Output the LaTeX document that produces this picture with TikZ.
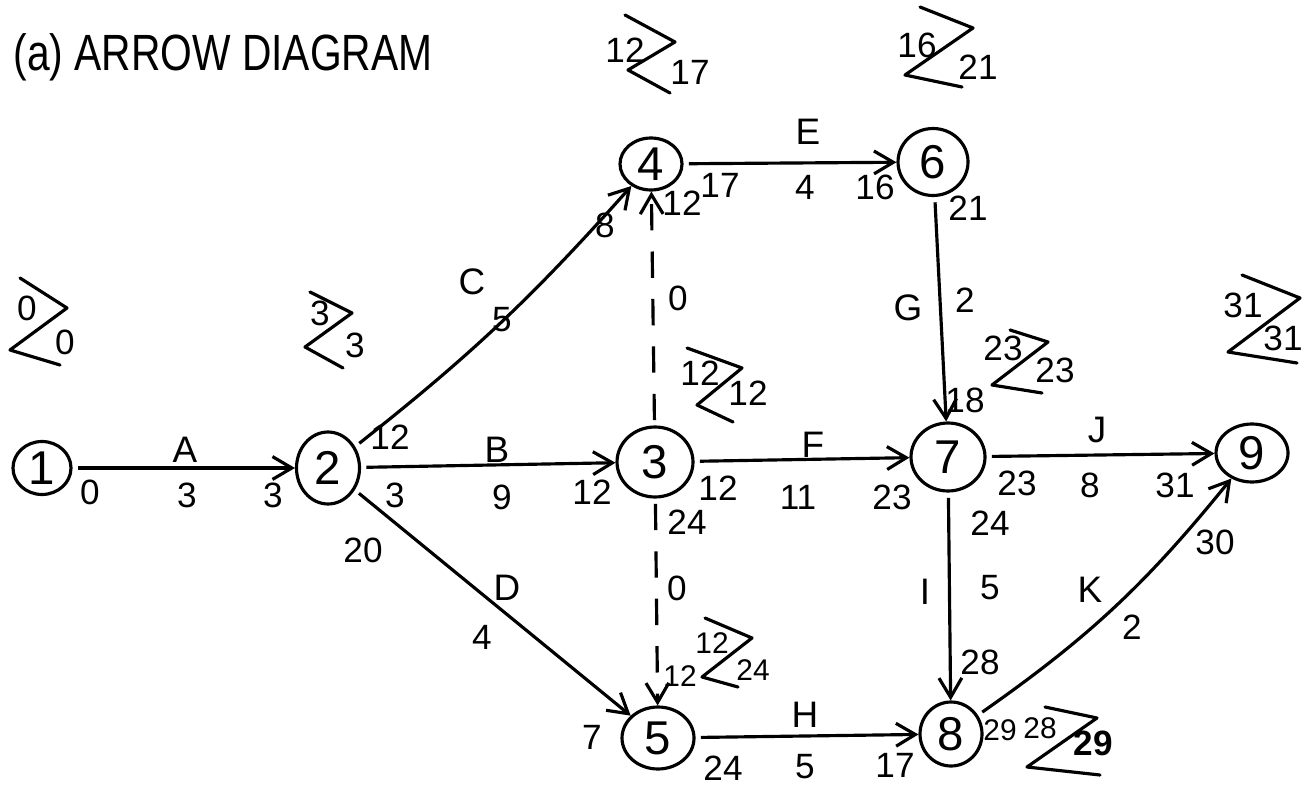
\documentclass[tikz,border=0pt]{standalone}
\usepackage{fontspec}
\setmainfont{Liberation Sans}
\usepackage{tikz}
\usetikzlibrary{arrows.meta,shapes.geometric}

\begin{document}
\begin{tikzpicture}[x=0.02cm,y=-0.02cm,
  evt/.style={ellipse, draw, line width=1.8pt, inner sep=0pt, font=\fontsize{27}{29}\selectfont},
  act/.style={line width=1.8pt, shorten <=3pt, -{Straight Barb[length=11pt,width=13pt,line width=1.8pt]}},
  dum/.style={act, dash pattern=on 15pt off 12pt},
  lbl/.style={inner sep=0pt, font=\fontsize{21}{23}\selectfont},
  num/.style={inner sep=0pt, font=\fontsize{20}{22}\selectfont},
  sml/.style={inner sep=0pt, font=\fontsize{17}{19}\selectfont},
  zig/.style={line width=1.8pt, line join=round, line cap=round}]
\useasboundingbox (0,0) rectangle (1314,790);

\node[inner sep=0pt, font=\fontsize{29}{31}\selectfont] (title) at (223,57) {\scalebox{0.8}[1]{(a) ARROW DIAGRAM}};

\node[evt, minimum width=1.16cm, minimum height=1.06cm] (n1) at (42,468) {1};
\node[evt, minimum width=1.26cm, minimum height=1.44cm] (n2) at (328,468) {2};
\node[evt, minimum width=1.52cm, minimum height=1.40cm] (n3) at (655,462) {3};
\node[evt, minimum width=1.24cm, minimum height=1.04cm] (n4) at (651,164) {4};
\node[evt, minimum width=1.44cm, minimum height=1.24cm] (n5) at (658,738) {5};
\node[evt, minimum width=1.40cm, minimum height=1.34cm] (n6) at (933,162) {6};
\node[evt, minimum width=1.48cm, minimum height=1.36cm] (n7) at (948,457) {7};
\node[evt, minimum width=1.24cm, minimum height=1.28cm] (n8) at (951,734) {8};
\node[evt, minimum width=1.44cm, minimum height=1.16cm] (n9) at (1252,453) {9};

\draw[act] (n1) -- (n2);
\draw[act] (n2) -- (n3);
\draw[act] (n2) to[bend right=5] (n4);
\draw[act] (n2) -- (n5);
\draw[act] (n4) -- (n6);
\draw[act] (n3) -- (n7);
\draw[act] (n6) -- (n7);
\draw[act] (n5) -- (n8);
\draw[act] (n7) -- (n8);
\draw[act] (n7) -- (n9);
\draw[act] (n8) to[bend right=8] (n9);
\draw[dum] (n3) -- (n4);
\draw[dum] (n3) -- (n5);

\node[lbl] (lA) at (185,450) {A};
\node[num] (dA) at (187,495) {3};
\node[num] (sA) at (90,492) {0};
\node[num] (fA) at (273,495) {3};
\node[lbl] (lB) at (497,450) {B};
\node[num] (dB) at (502,497) {9};
\node[num] (sB) at (395,495) {3};
\node[num] (fB) at (592,492) {12};
\node[num] (sC) at (390,437) {12};
\node[lbl] (lC) at (472,282) {C};
\node[num] (dC) at (502,320) {5};
\node[num] (fC) at (605,225) {8};
\node[num] (sD) at (363,550) {20};
\node[lbl] (lD) at (507,588) {D};
\node[num] (dD) at (482,637) {4};
\node[num] (fD) at (592,737) {7};
\node[lbl] (lE) at (808,132) {E};
\node[num] (dE) at (805,187) {4};
\node[num] (sE) at (720,185) {17};
\node[num] (fE) at (875,187) {16};
\node[num] (fU) at (682,203) {12};
\node[num] (dU) at (678,298) {0};
\node[num] (sW) at (687,522) {24};
\node[num] (dW) at (677,588) {0};
\node[sml] (fW) at (680,676) {12};
\node[lbl] (lF) at (813,445) {F};
\node[num] (dF) at (798,497) {11};
\node[num] (sF) at (718,488) {12};
\node[num] (fF) at (892,497) {23};
\node[lbl] (lG) at (908,308) {G};
\node[num] (dG) at (965,300) {2};
\node[num] (sG) at (968,208) {21};
\node[num] (fG) at (965,400) {18};
\node[lbl] (lJ) at (1097,430) {J};
\node[num] (dJ) at (1090,485) {8};
\node[num] (sJ) at (1017,483) {23};
\node[num] (fJ) at (1175,485) {31};
\node[lbl] (lI) at (925,592) {I};
\node[num] (dI) at (990,588) {5};
\node[num] (sI) at (990,523) {24};
\node[num] (fI) at (980,662) {28};
\node[lbl] (lH) at (805,715) {H};
\node[num] (dH) at (805,767) {5};
\node[num] (sH) at (723,768) {24};
\node[num] (fH) at (895,765) {17};
\node[lbl] (lK) at (1090,590) {K};
\node[num] (dK) at (1132,627) {2};
\node[num] (fK) at (1215,542) {30};
\node[sml] (sK) at (1000,730) {29};

\draw[zig] (20,278) -- (67,308) -- (10,350) -- (60,365);
\node[num] (e1t) at (27,308) {0};
\node[num] (e1b) at (65,342) {0};
\draw[zig] (310,292) -- (352,313) -- (305,347) -- (343,368);
\node[num] (e2t) at (320,313) {3};
\node[num] (e2b) at (355,345) {3};
\draw[zig] (687,348) -- (742,368) -- (697,405) -- (733,422);
\node[num] (e3t) at (700,373) {12};
\node[num] (e3b) at (748,393) {12};
\draw[zig] (625,15) -- (675,42) -- (628,70) -- (670,93);
\node[num] (e4t) at (625,50) {12};
\node[num] (e4b) at (690,72) {17};
\draw[zig] (705,618) -- (752,638) -- (702,677) -- (738,687);
\node[sml] (e5t) at (712,643) {12};
\node[sml] (e5b) at (753,670) {24};
\draw[zig] (920,7) -- (973,28) -- (905,75) -- (962,87);
\node[num] (e6t) at (917,45) {16};
\node[num] (e6b) at (978,67) {21};
\draw[zig] (1010,330) -- (1048,342) -- (992,385) -- (1042,393);
\node[num] (e7t) at (1003,348) {23};
\node[num] (e7b) at (1055,370) {23};
\draw[zig] (1045,707) -- (1097,718) -- (1027,767) -- (1100,775);
\node[sml] (e8t) at (1040,728) {28};
\node[num, font=\fontsize{20}{22}\selectfont\bfseries] (e8b) at (1093,743) {29};
\draw[zig] (1242,275) -- (1300,298) -- (1228,352) -- (1297,363);
\node[num] (e9t) at (1243,305) {31};
\node[num] (e9b) at (1283,338) {31};
\end{tikzpicture}
\end{document}
